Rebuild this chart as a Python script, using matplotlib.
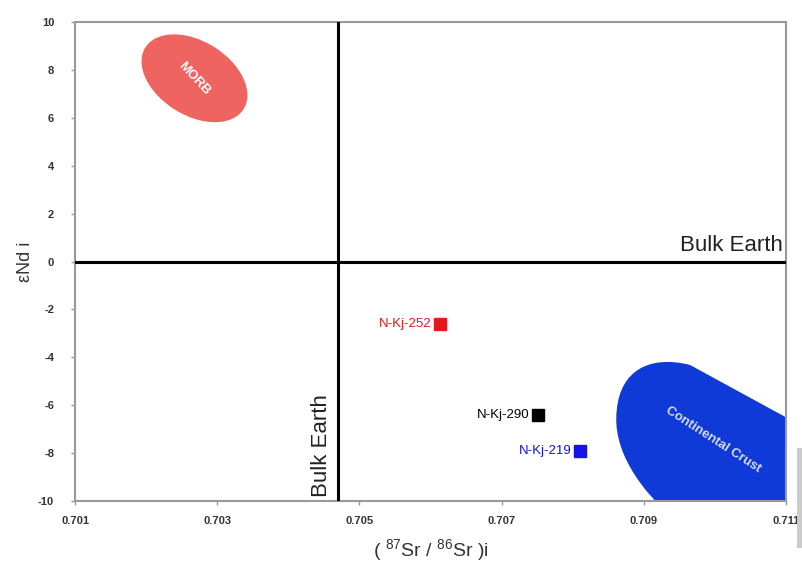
import matplotlib
matplotlib.use("Agg")
import matplotlib.pyplot as plt
from matplotlib.patches import Ellipse, PathPatch, Rectangle
from matplotlib.path import Path
from matplotlib.transforms import ScaledTranslation

plt.rcParams['font.family'] = ['Liberation Sans', 'DejaVu Sans']
plt.rcParams['mathtext.default'] = 'regular'
plt.rcParams['axes.unicode_minus'] = False

# samples
sample_names = ["N-Kj-252", "N-Kj-290", "N-Kj-219"]
sample_sr = [0.70613, 0.70751, 0.70810]
sample_nd = [-2.6, -6.4, -7.9]
sample_colors = ["#e3191c", "#000000", "#1414e6"]

# bulk earth reference
bulk_sr = 0.7047
bulk_nd = 0.0

# MORB field (centre in data units)
morb_center = (0.70268, 7.65)

# continental crust field outline (data units)
crust_x = [0.70944, 0.70895, 0.70855, 0.70862, 0.70867, 0.70909, 0.70965, 0.71120, 0.71120, 0.70944]
crust_y = [-10.8, -9.54, -7.87, -6.20, -4.53, -3.90, -4.32, -6.83, -10.8, -10.8]

x_ticks = [0.701, 0.703, 0.705, 0.707, 0.709, 0.711]
y_ticks = [-10, -8, -6, -4, -2, 0, 2, 4, 6, 8, 10]

fig = plt.figure(figsize=(8.03, 5.74), dpi=100)
ax = fig.add_axes([75 / 803, 1 - 501 / 574, 711 / 803, 479 / 574])
ax.set_xlim(0.701, 0.711)
ax.set_ylim(-10, 10)

# MORB ellipse drawn in inches around a data point
morb = Ellipse((0, 0), width=1.16, height=0.74, angle=-32,
               transform=fig.dpi_scale_trans + ScaledTranslation(morb_center[0], morb_center[1], ax.transData),
               facecolor="#ef6461", edgecolor="none", zorder=1)
ax.add_patch(morb)
ax.text(morb_center[0], morb_center[1], "MORB", color="white", fontsize=9.5, fontweight="bold",
        rotation=-47, ha="center", va="center", zorder=2)

# continental crust
codes = [Path.MOVETO, Path.CURVE4, Path.CURVE4, Path.CURVE4,
         Path.CURVE4, Path.CURVE4, Path.CURVE4, Path.LINETO, Path.LINETO, Path.CLOSEPOLY]
crust = PathPatch(Path(list(zip(crust_x, crust_y)), codes), facecolor="#0f3ad8",
                  edgecolor="none", zorder=1)
ax.add_patch(crust)
ax.text(0.70998, -7.45, "Continental Crust", color="#d8dcf0", fontsize=9.5, fontweight="bold",
        rotation=-33, ha="center", va="center", zorder=2)

# bulk earth lines
ax.axhline(bulk_nd, color="black", lw=2.2, zorder=3)
ax.axvline(bulk_sr, color="black", lw=2.2, zorder=3)
ax.text(0.71095, 0.25, "Bulk Earth", fontsize=16, color="#222222", ha="right", va="bottom")
ax.text(bulk_sr - 0.00008, -9.85, "Bulk Earth", fontsize=16, color="#222222",
        rotation=90, ha="right", va="bottom")

# samples
for name, sr, nd, c in zip(sample_names, sample_sr, sample_nd, sample_colors):
    ax.plot(sr, nd, marker="s", ms=9, color=c, ls="none", zorder=4)
    ax.text(sr - 0.00012, nd, name, color=c, fontsize=9.5, ha="right", va="center")

ax.set_xticks(x_ticks)
ax.set_yticks(y_ticks)
ax.set_xticklabels(["%.3f" % v for v in x_ticks])
ax.tick_params(axis="both", colors="#999999", labelcolor="#333333", labelsize=8, length=3, width=1)
for lab in ax.get_xticklabels() + ax.get_yticklabels():
    lab.set_fontweight("bold")
ax.tick_params(axis="x", pad=8)
ax.tick_params(axis="y", pad=12)
for s in ax.spines.values():
    s.set_color("#999999")
    s.set_linewidth(1.5)

ax.set_xlabel(r"( $^{87}$Sr / $^{86}$Sr )i", fontsize=14, color="#333333", labelpad=8)
ax.set_ylabel("εNd i", fontsize=13, color="#333333", labelpad=3)

# grey bar on the right edge of the scan
fig.add_artist(Rectangle((797 / 803, 1 - 548 / 574), 6 / 803, 100 / 574,
                         transform=fig.transFigure, facecolor="#cccccc", edgecolor="none", zorder=10))

fig.savefig("out.png", dpi=100)
